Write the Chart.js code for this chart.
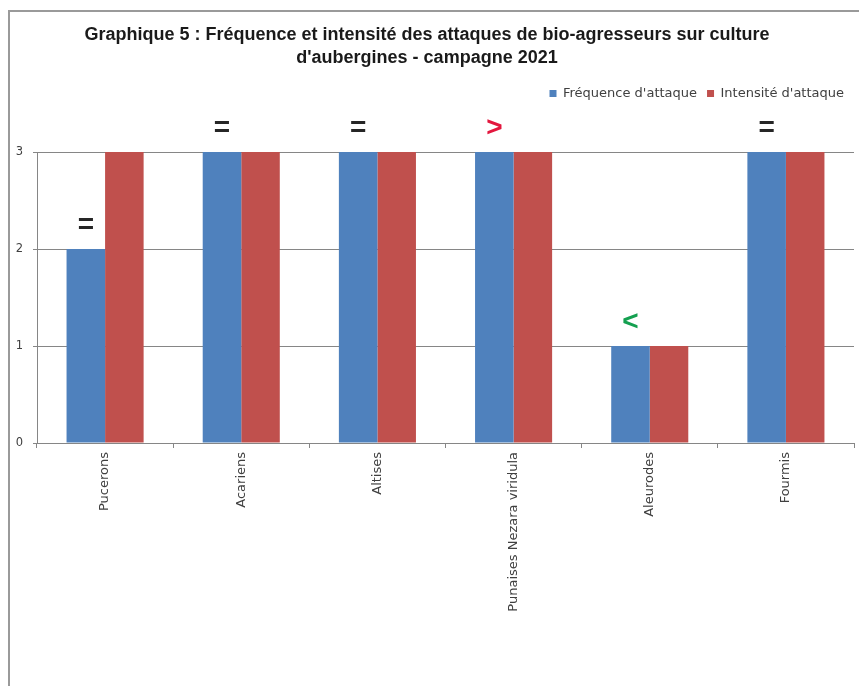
<!DOCTYPE html>
<html>
<head>
<meta charset="utf-8">
<script src="https://cdn.jsdelivr.net/npm/chart.js@4/dist/chart.umd.min.js"></script>
<style>
html,body{margin:0;padding:0;background:#fff;}
#wrap{position:relative;width:859px;height:686px;}
canvas{display:block;}
</style>
</head>
<body>
<div id="wrap"><canvas id="c" width="859" height="686"></canvas></div>
<script>
const categories = ['Pucerons', 'Acariens', 'Altises', 'Punaises Nezara viridula', 'Aleurodes', 'Fourmis'];
const frequence = [2, 3, 3, 3, 1, 3];
const intensite = [3, 3, 3, 3, 1, 3];
const comparaison = ['=', '=', '=', '>', '<', '='];
const comparaisonCouleurs = ['#262626', '#262626', '#262626', '#e3173e', '#14a050', '#262626'];
const yTicks = [0, 1, 2, 3];
const titleLines = ["Graphique 5 : Fréquence et intensité des attaques de bio-agresseurs sur culture", "d'aubergines - campagne 2021"];
const seriesNames = ["Fréquence d'attaque", "Intensité d'attaque"];

const framePlugin = {
  id: 'frame',
  beforeDraw(chart) {
    const ctx = chart.ctx;
    ctx.save();
    ctx.strokeStyle = '#9a9a9a';
    ctx.lineWidth = 2;
    ctx.beginPath();
    ctx.moveTo(9, 686);
    ctx.lineTo(9, 11);
    ctx.lineTo(859, 11);
    ctx.stroke();
    ctx.restore();
  }
};

const legendGapPlugin = {
  id: 'legendGap',
  beforeUpdate(chart) {
    const lg = chart.legend;
    if (lg && !lg._gapPatched) {
      const origFit = lg.fit;
      lg.fit = function () {
        origFit.call(this);
        this.height += 42;
      };
      lg._gapPatched = true;
    }
  }
};

const marksPlugin = {
  id: 'marks',
  afterDatasetsDraw(chart) {
    const ctx = chart.ctx;
    const meta = chart.getDatasetMeta(0);
    ctx.save();
    ctx.font = 'bold 28px "Liberation Sans", Arial, sans-serif';
    ctx.textAlign = 'center';
    ctx.textBaseline = 'middle';
    meta.data.forEach((bar, i) => {
      ctx.fillStyle = comparaisonCouleurs[i];
      ctx.fillText(comparaison[i], bar.x, bar.y - 24);
    });
    ctx.restore();
  }
};

new Chart(document.getElementById('c'), {
  type: 'bar',
  data: {
    labels: categories,
    datasets: [
      { label: seriesNames[0], data: frequence, backgroundColor: '#4f81bd', borderWidth: 0 },
      { label: seriesNames[1], data: intensite, backgroundColor: '#c0504d', borderWidth: 0 }
    ]
  },
  options: {
    responsive: false,
    animation: false,
    layout: { padding: { left: 0, right: 5, top: 0, bottom: 0 } },
    datasets: { bar: { categoryPercentage: 0.566, barPercentage: 1.0 } },
    plugins: {
      title: {
        display: true,
        text: titleLines,
        color: '#1a1a1a',
        font: { family: '"Liberation Sans Narrow", "Liberation Sans", Arial, sans-serif', size: 18, weight: 'bold', lineHeight: 1.25 },
        padding: { top: 24, bottom: 8 }
      },
      legend: {
        display: true,
        position: 'top',
        align: 'end',
        labels: {
          boxWidth: 7,
          boxHeight: 7,
          color: '#404040',
          font: { family: '"DejaVu Sans", sans-serif', size: 13 },
          padding: 10
        }
      },
      tooltip: { enabled: false }
    },
    scales: {
      x: {
        afterFit(scale) { scale.height = 243; },
        grid: { drawOnChartArea: false, drawTicks: true, tickLength: 5, color: '#868686', offset: true },
        border: { display: true, color: '#868686', width: 1 },
        ticks: {
          maxRotation: 90, minRotation: 90, autoSkip: false,
          color: '#404040',
          font: { family: '"DejaVu Sans", sans-serif', size: 13 },
          padding: 4
        }
      },
      y: {
        min: 0, max: 3,
        afterFit(scale) { scale.width = 37; },
        afterBuildTicks(scale) { scale.ticks = yTicks.map(v => ({ value: v })); },
        grid: { color: '#868686', tickLength: 4, drawTicks: true },
        border: { display: true, color: '#868686', width: 1 },
        ticks: {
          color: '#404040',
          font: { family: '"DejaVu Sans", sans-serif', size: 11.5 },
          padding: 10
        }
      }
    }
  },
  plugins: [framePlugin, legendGapPlugin, marksPlugin]
});
</script>
</body>
</html>
